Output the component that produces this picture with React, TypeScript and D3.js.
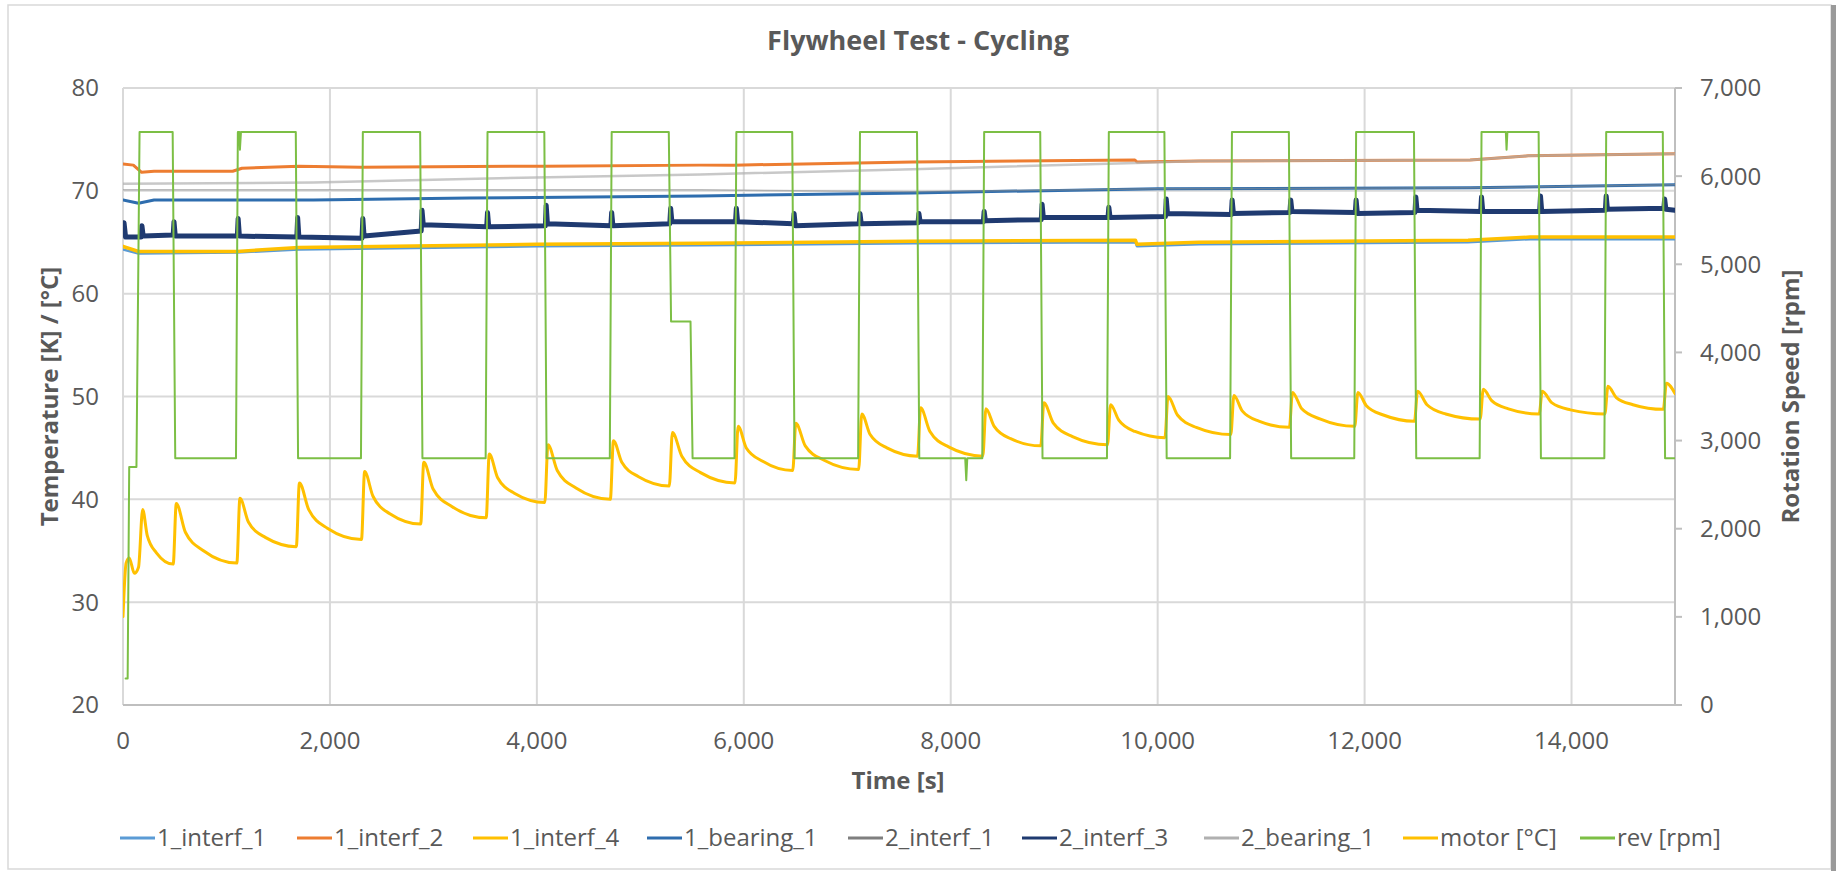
import React from "react";
import * as d3 from "d3";

type Pt = [number, number];

// ---------- tick values ----------
const xTickValues = [0, 2000, 4000, 6000, 8000, 10000, 12000, 14000];
const leftTickValues = [20, 30, 40, 50, 60, 70, 80];
const rightTickValues = [0, 1000, 2000, 3000, 4000, 5000, 6000, 7000];

// ---------- series (time [s], value) ----------
const interf1_1: Pt[] = [
  [0, 64.3], [150, 63.9], [1100, 64.0], [1700, 64.3], [4000, 64.6], [5600, 64.7],
  [7630, 64.9], [9785, 65.0], [9800, 64.6], [10400, 64.8], [13000, 65.0], [13600, 65.3], [15000, 65.3],
];

const interf1_2: Pt[] = [
  [0, 72.6], [100, 72.5], [180, 71.8], [300, 71.9], [1060, 71.9], [1150, 72.2], [1700, 72.4],
  [2300, 72.3], [4070, 72.4], [5580, 72.5], [5900, 72.5], [7630, 72.8], [9780, 73.0], [9800, 72.8],
  [10400, 72.9], [13020, 73.0], [13580, 73.4], [15000, 73.6],
];

const interf1_4: Pt[] = [
  [0, 64.6], [150, 64.1], [1100, 64.1], [1700, 64.5], [4000, 64.8], [5600, 64.9], [7630, 65.1],
  [9785, 65.2], [9800, 64.8], [10400, 65.0], [13000, 65.2], [13600, 65.5], [15000, 65.5],
];

const bearing1_1: Pt[] = [
  [0, 69.1], [150, 68.8], [300, 69.1], [1840, 69.1], [3350, 69.3], [5580, 69.5], [7630, 69.8],
  [10000, 70.2], [13020, 70.3], [15000, 70.6],
];

const interf2_1: Pt[] = [
  [0, 70.1], [3000, 70.1], [5580, 70.1], [7630, 69.9], [10000, 70.2], [13020, 70.3], [15000, 70.6],
];

const interf2_3: Pt[] = [
  [0, 65.7], [10, 66.9], [25, 65.5],
  [175, 65.5], [183, 66.6], [195, 65.6],
  [485, 65.7], [493, 67.0], [505, 65.6],
  [1105, 65.6], [1113, 67.3], [1125, 65.6],
  [1680, 65.5], [1688, 67.4], [1700, 65.5],
  [2310, 65.4], [2318, 67.3], [2330, 65.6],
  [2882, 66.1], [2890, 68.1], [2902, 66.7],
  [3515, 66.5], [3523, 67.9], [3535, 66.5],
  [4082, 66.6], [4090, 68.6], [4102, 66.8],
  [4715, 66.6], [4723, 67.9], [4735, 66.6],
  [5285, 66.8], [5293, 68.3], [5305, 67.0],
  [5920, 67.0], [5928, 68.3], [5940, 67.0],
  [6478, 66.8], [6486, 67.8], [6498, 66.6],
  [7115, 66.8], [7123, 67.8], [7135, 66.8],
  [7684, 66.9], [7692, 67.8], [7704, 67.0],
  [8315, 67.0], [8323, 68.0], [8335, 67.1],
  [8875, 67.2], [8883, 68.7], [8895, 67.4],
  [9520, 67.4], [9528, 68.4], [9540, 67.4],
  [10075, 67.5], [10083, 69.2], [10095, 67.8],
  [10712, 67.7], [10720, 69.1], [10732, 67.8],
  [11278, 67.9], [11286, 69.1], [11298, 68.0],
  [11910, 67.9], [11918, 69.1], [11930, 67.8],
  [12487, 67.9], [12495, 69.4], [12507, 68.1],
  [13122, 68.0], [13130, 69.4], [13142, 68.0],
  [13692, 68.0], [13700, 69.5], [13712, 68.0],
  [14327, 68.1], [14335, 69.5], [14347, 68.2],
  [14892, 68.3], [14900, 69.2], [14912, 68.2],
  [15000, 68.1],
];

const bearing2_1: Pt[] = [
  [0, 70.7], [1840, 70.8], [3990, 71.3], [5580, 71.6], [7630, 72.1], [9785, 72.7], [10400, 72.9],
  [13020, 73.0], [13580, 73.4], [15000, 73.6],
];

const motor: Pt[] = [
  [0, 28.6], [30, 33.8], [60, 34.3], [110, 32.8], [150, 33.4], [190, 39.0], [234, 36.5], [323, 34.8], [485, 33.7],
  [515, 39.6], [603, 36.8], [778, 35.0], [1100, 33.8],
  [1130, 40.1], [1212, 37.8], [1375, 36.3], [1675, 35.4],
  [1705, 41.6], [1795, 39.0], [1975, 37.2], [2305, 36.1],
  [2335, 42.7], [2416, 40.3], [2579, 38.6], [2877, 37.6],
  [2907, 43.6], [2997, 41.0], [3178, 39.3], [3510, 38.2],
  [3540, 44.4], [3621, 42.1], [3782, 40.6], [4077, 39.7],
  [4107, 45.3], [4197, 42.8], [4378, 41.1], [4710, 40.0],
  [4740, 45.7], [4821, 43.6], [4983, 42.2], [5280, 41.3],
  [5310, 46.5], [5401, 44.2], [5582, 42.6], [5915, 41.6],
  [5945, 47.1], [6024, 45.0], [6183, 43.7], [6473, 42.8],
  [6503, 47.4], [6594, 45.2], [6776, 43.8], [7110, 42.9],
  [7140, 48.3], [7221, 46.3], [7383, 45.0], [7679, 44.2],
  [7709, 48.9], [7799, 46.6], [7979, 45.1], [8310, 44.2],
  [8340, 48.8], [8420, 47.1], [8579, 45.9], [8870, 45.2],
  [8900, 49.4], [8992, 47.4], [9177, 46.1], [9515, 45.3],
  [9545, 49.2], [9624, 47.7], [9781, 46.6], [10070, 46.0],
  [10100, 50.0], [10191, 48.2], [10373, 47.0], [10707, 46.3],
  [10737, 50.1], [10817, 48.6], [10978, 47.6], [11273, 47.0],
  [11303, 50.4], [11393, 48.8], [11574, 47.8], [11905, 47.1],
  [11935, 50.4], [12017, 49.1], [12181, 48.2], [12482, 47.6],
  [12512, 50.5], [12603, 49.2], [12784, 48.3], [13117, 47.8],
  [13147, 50.7], [13228, 49.6], [13390, 48.8], [13687, 48.3],
  [13717, 50.5], [13808, 49.4], [13989, 48.7], [14322, 48.3],
  [14352, 51.0], [14432, 49.9], [14593, 49.2], [14887, 48.75],
  [14917, 51.3], [15000, 50.3],
];

const rev: Pt[] = [
  [25, 300], [45, 300], [60, 2700], [130, 2700], [160, 6500], [480, 6500], [505, 2800], [1092, 2800],
  [1110, 6500], [1125, 6500], [1130, 6300], [1140, 6500], [1670, 6500], [1692, 2800], [2300, 2800],
  [2318, 6500], [2872, 6500], [2894, 2800], [3505, 2800], [3523, 6500], [4072, 6500], [4094, 2800],
  [4705, 2800], [4723, 6500], [5275, 6500], [5297, 4350], [5485, 4350], [5505, 2800], [5910, 2800],
  [5928, 6500], [6468, 6500], [6490, 2800], [7105, 2800], [7123, 6500], [7674, 6500], [7696, 2800],
  [8140, 2800], [8150, 2550], [8160, 2800], [8305, 2800], [8323, 6500], [8865, 6500], [8887, 2800],
  [9510, 2800], [9528, 6500], [10065, 6500], [10087, 2800], [10700, 2800], [10718, 6500],
  [11268, 6500], [11290, 2800], [11900, 2800], [11918, 6500], [12477, 6500], [12499, 2800],
  [13112, 2800], [13130, 6500], [13365, 6500], [13372, 6300], [13380, 6500], [13682, 6500],
  [13704, 2800], [14317, 2800], [14335, 6500], [14882, 6500], [14904, 2800], [15000, 2800],
];

const seriesNames = [
  "1_interf_1", "1_interf_2", "1_interf_4", "1_bearing_1", "2_interf_1",
  "2_interf_3", "2_bearing_1", "motor [°C]", "rev [rpm]",
];

export default function App() {
  const W = 1842;
  const H = 872;
  const m = { left: 123, right: 1675, top: 88, bottom: 705 };

  const x = d3.scaleLinear().domain([0, 15000]).range([m.left, m.right]);
  const yL = d3.scaleLinear().domain([20, 80]).range([m.bottom, m.top]);
  const yR = d3.scaleLinear().domain([0, 7000]).range([m.bottom, m.top]);
  const lineL = d3.line<Pt>().x((d) => x(d[0])).y((d) => yL(d[1]));
  const lineSmooth = d3.line<Pt>().x((d) => x(d[0])).y((d) => yL(d[1])).curve(d3.curveMonotoneX);
  const lineR = d3.line<Pt>().x((d) => x(d[0])).y((d) => yR(d[1]));
  const fmt = d3.format(",");

  const font = "'Open Sans', 'DejaVu Sans', sans-serif";
  const txt = "#595959";

  const series = [
    { name: seriesNames[0], data: interf1_1, color: "#5B9BD5", w: 2.5, gen: lineL, op: 1 },
    { name: seriesNames[1], data: interf1_2, color: "#ED7D31", w: 3, gen: lineL, op: 1 },
    { name: seriesNames[2], data: interf1_4, color: "#FFC000", w: 3.5, gen: lineL, op: 1 },
    { name: seriesNames[3], data: bearing1_1, color: "#2E6DAE", w: 3, gen: lineL, op: 1 },
    { name: seriesNames[4], data: interf2_1, color: "#8C8C8C", w: 1.5, gen: lineL, op: 0.55 },
    { name: seriesNames[5], data: interf2_3, color: "#1F3A70", w: 5, gen: lineL, op: 1 },
    { name: seriesNames[6], data: bearing2_1, color: "#B0B0B0", w: 2.5, gen: lineL, op: 0.7 },
    { name: seriesNames[7], data: motor, color: "#FFC000", w: 3, gen: lineSmooth, op: 1 },
    { name: seriesNames[8], data: rev, color: "#7CBF45", w: 2, gen: lineR, op: 1 },
  ];

  const legendColors = ["#5B9BD5", "#ED7D31", "#FFC000", "#2E6DAE", "#7F7F7F", "#1F3A70", "#B0B0B0", "#FFC000", "#7CBF45"];
  const legendX = [120, 297, 473, 647, 848, 1022, 1204, 1403, 1580];
  const legendY = 838;

  return (
    <svg
      width={W}
      height={H}
      viewBox={`0 0 ${W} ${H}`}
      style={{ position: "absolute", left: 0, top: 0, background: "#ffffff", fontFamily: font }}
    >
      <rect x={0} y={0} width={W} height={H} fill="#ffffff" />
      {/* chart frame */}
      <rect x={8} y={5} width={1823} height={864} fill="#ffffff" stroke="#D9D9D9" strokeWidth={1.5} />
      <rect x={1831} y={5} width={5} height={866} fill="#9A9A9A" />

      <defs>
        <clipPath id="plotClip">
          <rect x={m.left} y={m.top - 4} width={m.right - m.left} height={m.bottom - m.top + 8} />
        </clipPath>
      </defs>

      {/* gridlines */}
      {leftTickValues.map((v) => (
        <line key={"gy" + v} x1={m.left} x2={m.right} y1={yL(v)} y2={yL(v)} stroke="#D9D9D9" strokeWidth={2} />
      ))}
      {xTickValues.map((v) => (
        <line key={"gx" + v} x1={x(v)} x2={x(v)} y1={m.top} y2={m.bottom} stroke="#D9D9D9" strokeWidth={2} />
      ))}
      {/* axes lines */}
      <line x1={m.left} x2={m.right} y1={m.bottom} y2={m.bottom} stroke="#BFBFBF" strokeWidth={2} />
      <line x1={m.right} x2={m.right} y1={m.top} y2={m.bottom} stroke="#BFBFBF" strokeWidth={2} />
      {rightTickValues.map((v) => (
        <line key={"rt" + v} x1={m.right} x2={m.right + 7} y1={yR(v)} y2={yR(v)} stroke="#BFBFBF" strokeWidth={2} />
      ))}

      {/* series */}
      <g clipPath="url(#plotClip)" fill="none" strokeLinejoin="round" strokeLinecap="round">
        {series.map((s) => (
          <path
            key={s.name}
            d={s.gen(s.data) || ""}
            stroke={s.color}
            strokeWidth={s.w}
            strokeOpacity={s.op}
          />
        ))}
      </g>

      {/* title */}
      <text x={918} y={50} textAnchor="middle" fontSize={27} fontWeight="bold" fill={txt}>
        Flywheel Test - Cycling
      </text>

      {/* left tick labels */}
      {leftTickValues.map((v) => (
        <text key={"lt" + v} x={99} y={yL(v)} dy="0.35em" textAnchor="end" fontSize={24} fill={txt}>
          {v}
        </text>
      ))}
      {/* right tick labels */}
      {rightTickValues.map((v) => (
        <text key={"rl" + v} x={1700} y={yR(v)} dy="0.35em" textAnchor="start" fontSize={24} fill={txt}>
          {fmt(v)}
        </text>
      ))}
      {/* x tick labels */}
      {xTickValues.map((v) => (
        <text key={"xl" + v} x={x(v)} y={749} textAnchor="middle" fontSize={24} fill={txt}>
          {fmt(v)}
        </text>
      ))}

      {/* axis titles */}
      <text x={898} y={789} textAnchor="middle" fontSize={24} fontWeight="bold" fill={txt}>
        Time [s]
      </text>
      <text
        transform={`translate(58, ${(m.top + m.bottom) / 2}) rotate(-90)`}
        textAnchor="middle"
        fontSize={24}
        fontWeight="bold"
        fill={txt}
      >
        Temperature [K] / [°C]
      </text>
      <text
        transform={`translate(1799, ${(m.top + m.bottom) / 2}) rotate(-90)`}
        textAnchor="middle"
        fontSize={24}
        fontWeight="bold"
        fill={txt}
      >
        Rotation Speed [rpm]
      </text>

      {/* legend */}
      {seriesNames.map((n, i) => (
        <g key={"lg" + n}>
          <line x1={legendX[i]} x2={legendX[i] + 35} y1={legendY} y2={legendY} stroke={legendColors[i]} strokeWidth={3} />
          <text x={legendX[i] + 37} y={legendY} dy="0.35em" fontSize={24} fill={txt}>
            {n}
          </text>
        </g>
      ))}
    </svg>
  );
}
